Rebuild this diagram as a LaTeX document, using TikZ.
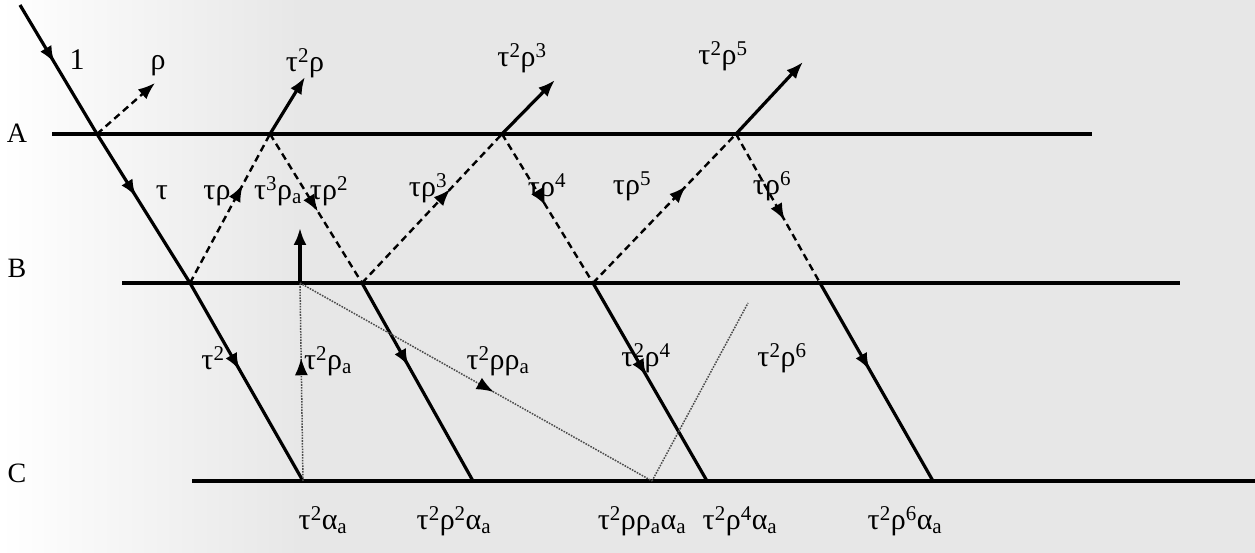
\documentclass[tikz,border=0pt]{standalone}
\usepackage{fontspec}
\setmainfont{Liberation Serif}
\usetikzlibrary{arrows.meta,decorations.markings}
\definecolor{bgc}{RGB}{231,231,231}
\begin{document}
\begin{tikzpicture}[x=1pt,y=1pt,
  surf/.style={line width=4.4pt},
  ray/.style={line width=3.2pt},
  dray/.style={line width=2.4pt, dash pattern=on 7pt off 4.5pt},
  oray/.style={line width=1.5pt, dash pattern=on 1.6pt off 1.2pt, black!70},
  midarr/.style={postaction={decorate},decoration={markings,mark=at position #1 with {\arrow{Latex[length=17pt,width=13pt,color=black]}}}},
  endarr/.style={-{Latex[length=17pt,width=13pt]}},
  lab/.style={anchor=base,inner sep=0pt,font=\fontsize{30}{34}\selectfont},
  side/.style={anchor=base,inner sep=0pt,font=\fontsize{28}{32}\selectfont},
]
\useasboundingbox (0,0) rectangle (1255,553);
\fill[bgc] (0,0) rectangle (1255,553);
\shade[left color=white,right color=bgc] (0,0) rectangle (300,553);

% surfaces
\coordinate (Al) at (52,419);  \coordinate (Ar) at (1092,419);
\coordinate (Bl) at (122,270); \coordinate (Br) at (1180,270);
\coordinate (Cl) at (192,72);  \coordinate (Cr) at (1255,72);
\draw[surf] (Al) -- (Ar);
\draw[surf] (Bl) -- (Br);
\draw[surf] (Cl) -- (Cr);

% ray points
\coordinate (P0) at (20,548);
\coordinate (A1) at (97,419);  \coordinate (B1) at (190,270);  \coordinate (C1) at (303,72);
\coordinate (A2) at (270,419); \coordinate (B2) at (362,270);  \coordinate (C2) at (473,72);
\coordinate (A3) at (502,419); \coordinate (B3) at (593,270);  \coordinate (C3) at (707,72);
\coordinate (A4) at (736,419); \coordinate (B4) at (820,270);  \coordinate (C4) at (933,72);
\coordinate (R0) at (155,470); \coordinate (R1) at (305,476);
\coordinate (R2) at (555,473); \coordinate (R3) at (803,491);
\coordinate (V1) at (300,270); \coordinate (VT) at (300,325);
\coordinate (D)  at (652,72);  \coordinate (E)  at (748,250);

% transmitted rays
\draw[ray,midarr=0.45] (P0) -- (A1);
\draw[ray,midarr=0.42] (A1) -- (B1);
\draw[ray,midarr=0.44] (B1) -- (C1);
\draw[ray,midarr=0.42] (B2) -- (C2);
\draw[ray,midarr=0.47] (B3) -- (C3);
\draw[ray,midarr=0.44] (B4) -- (C4);

% reflected (outgoing) rays
\draw[dray,endarr] (A1) -- (R0);
\draw[ray,endarr] (A2) -- (R1);
\draw[ray,endarr] (A3) -- (R2);
\draw[ray,endarr] (A4) -- (R3);

% internal reflections
\draw[dray,midarr=0.66] (B1) -- (A2);
\draw[dray,midarr=0.52] (A2) -- (B2);
\draw[dray,midarr=0.63] (B2) -- (A3);
\draw[dray,midarr=0.48] (A3) -- (B3);
\draw[dray,midarr=0.65] (B3) -- (A4);
\draw[dray,midarr=0.58] (A4) -- (B4);

% absorber reflections
\draw[oray,midarr=0.62] (C1) -- (V1);
\draw[ray,endarr] (V1) -- (VT);
\draw[oray,midarr=0.55] (V1) -- (D);
\draw[oray] (D) -- (E);

% side labels
\node[side] (lA) at (17,410) {A};
\node[side] (lB) at (17,275) {B};
\node[side] (lC) at (17,70) {C};

% top labels
\node[lab] (l1)  at (77,483) {1};
\node[lab] (l2)  at (158,483) {ρ};
\node[lab] (l3)  at (305,481) {τ\textsuperscript{2}ρ};
\node[lab] (l4)  at (522,486) {τ\textsuperscript{2}ρ\textsuperscript{3}};
\node[lab] (l5)  at (723,488) {τ\textsuperscript{2}ρ\textsuperscript{5}};

% middle labels
\node[lab] (m1) at (162,353) {τ};
\node[lab] (m2) at (217,353) {τρ};
\node[lab] (m3) at (278,353) {τ\textsuperscript{3}ρ\textsubscript{a}};
\node[lab] (m4) at (329,353) {τρ\textsuperscript{2}};
\node[lab] (m5) at (428,356) {τρ\textsuperscript{3}};
\node[lab] (m6) at (547,356) {τρ\textsuperscript{4}};
\node[lab] (m7) at (632,358) {τρ\textsuperscript{5}};
\node[lab] (m8) at (772,358) {τρ\textsuperscript{6}};

% lower labels
\node[lab] (n1) at (213,183) {τ\textsuperscript{2}};
\node[lab] (n2) at (328,183) {τ\textsuperscript{2}ρ\textsubscript{a}};
\node[lab] (n3) at (498,183) {τ\textsuperscript{2}ρρ\textsubscript{a}};
\node[lab] (n4) at (646,186) {τ\textsuperscript{2}ρ\textsuperscript{4}};
\node[lab] (n5) at (782,186) {τ\textsuperscript{2}ρ\textsuperscript{6}};

% bottom labels
\node[lab] (b1) at (323,23) {τ\textsuperscript{2}α\textsubscript{a}};
\node[lab] (b2) at (454,23) {τ\textsuperscript{2}ρ\textsuperscript{2}α\textsubscript{a}};
\node[lab] (b3) at (642,23) {τ\textsuperscript{2}ρρ\textsubscript{a}α\textsubscript{a}};
\node[lab] (b4) at (740,23) {τ\textsuperscript{2}ρ\textsuperscript{4}α\textsubscript{a}};
\node[lab] (b5) at (905,23) {τ\textsuperscript{2}ρ\textsuperscript{6}α\textsubscript{a}};
\end{tikzpicture}
\end{document}
